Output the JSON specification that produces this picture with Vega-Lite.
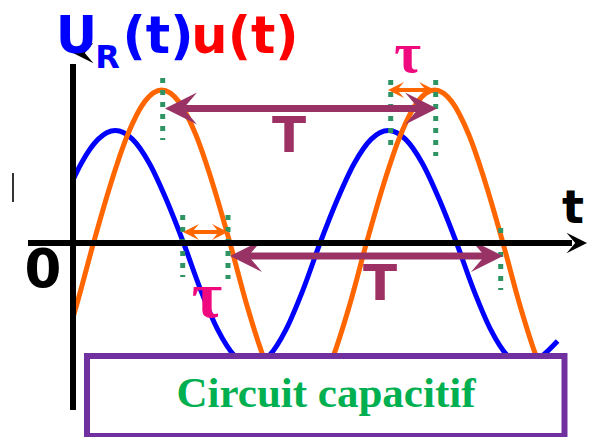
{
  "$schema": "https://vega.github.io/schema/vega-lite/v6.json",
  "width": 593,
  "height": 437,
  "padding": 0,
  "autosize": {"type": "none"},
  "background": "white",
  "config": {"view": {"stroke": null}},
  "encoding": {
    "x": {"field": "t", "type": "quantitative", "scale": {"domain": [-5.348, 38.095], "nice": false, "zero": false}, "axis": null},
    "y": {"field": "v", "type": "quantitative", "scale": {"domain": [-12.680, 15.882], "nice": false, "zero": false}, "axis": null}
  },
  "layer": [
    {
      "data": {"values": [
        {"s": "UR", "t": 0, "v": 4.13}, {"s": "UR", "t": 0.6, "v": 5.2}, {"s": "UR", "t": 1.85, "v": 6.79},
        {"s": "UR", "t": 3.1, "v": 7.35}, {"s": "UR", "t": 4.35, "v": 6.79}, {"s": "UR", "t": 5.6, "v": 5.2},
        {"s": "UR", "t": 6.85, "v": 2.81}, {"s": "UR", "t": 8.1, "v": 0}, {"s": "UR", "t": 9.35, "v": -3.06},
        {"s": "UR", "t": 10.6, "v": -5.66}, {"s": "UR", "t": 11.85, "v": -7.39}, {"s": "UR", "t": 13.1, "v": -8.0},
        {"s": "UR", "t": 14.35, "v": -7.39}, {"s": "UR", "t": 15.6, "v": -5.66}, {"s": "UR", "t": 16.85, "v": -3.06},
        {"s": "UR", "t": 18.1, "v": 0}, {"s": "UR", "t": 19.35, "v": 2.81}, {"s": "UR", "t": 20.6, "v": 5.2},
        {"s": "UR", "t": 21.85, "v": 6.79}, {"s": "UR", "t": 23.1, "v": 7.35}, {"s": "UR", "t": 24.35, "v": 6.79},
        {"s": "UR", "t": 25.6, "v": 5.2}, {"s": "UR", "t": 26.85, "v": 2.81}, {"s": "UR", "t": 28.1, "v": 0},
        {"s": "UR", "t": 29.35, "v": -3.06}, {"s": "UR", "t": 30.6, "v": -5.66}, {"s": "UR", "t": 31.85, "v": -7.39},
        {"s": "UR", "t": 33.1, "v": -8.0}, {"s": "UR", "t": 34.35, "v": -7.39}, {"s": "UR", "t": 35.5, "v": -6.4},
        {"s": "u", "t": 0, "v": -4.86}, {"s": "u", "t": 0.25, "v": -4.1}, {"s": "u", "t": 1.5, "v": 0},
        {"s": "u", "t": 2.75, "v": 3.83}, {"s": "u", "t": 4.0, "v": 7.07}, {"s": "u", "t": 5.25, "v": 9.24},
        {"s": "u", "t": 6.5, "v": 10}, {"s": "u", "t": 7.75, "v": 9.24}, {"s": "u", "t": 9.0, "v": 7.07},
        {"s": "u", "t": 10.25, "v": 3.83}, {"s": "u", "t": 11.5, "v": 0}, {"s": "u", "t": 12.75, "v": -4.1},
        {"s": "u", "t": 14.0, "v": -7.56}, {"s": "u", "t": 15.25, "v": -9.89}, {"s": "u", "t": 16.5, "v": -10.7},
        {"s": "u", "t": 17.75, "v": -9.89}, {"s": "u", "t": 19.0, "v": -7.56}, {"s": "u", "t": 20.25, "v": -4.1},
        {"s": "u", "t": 21.5, "v": 0}, {"s": "u", "t": 22.75, "v": 3.83}, {"s": "u", "t": 24.0, "v": 7.07},
        {"s": "u", "t": 25.25, "v": 9.24}, {"s": "u", "t": 26.5, "v": 10}, {"s": "u", "t": 27.75, "v": 9.24},
        {"s": "u", "t": 29.0, "v": 7.07}, {"s": "u", "t": 30.25, "v": 3.83}, {"s": "u", "t": 31.5, "v": 0},
        {"s": "u", "t": 32.75, "v": -4.1}, {"s": "u", "t": 34.0, "v": -7.56}, {"s": "u", "t": 35.25, "v": -9.89}
      ]},
      "mark": {"type": "line", "interpolate": "monotone", "strokeWidth": 5, "strokeCap": "butt"},
      "encoding": {
        "color": {"field": "s", "type": "nominal", "scale": {"domain": ["UR", "u"], "range": ["#0000FF", "#FF6600"]}, "legend": null}
      }
    },
    {
      "data": {"values": [
        {"t": 6.571, "v": 10.784, "t2": 6.571, "v2": 6.732},
        {"t": 23.275, "v": 10.654, "t2": 23.275, "v2": 5.948},
        {"t": 26.571, "v": 10.654, "t2": 26.571, "v2": 5.686},
        {"t": 8.037, "v": 1.83, "t2": 8.037, "v2": -2.222},
        {"t": 11.355, "v": 1.83, "t2": 11.355, "v2": -2.353},
        {"t": 31.333, "v": 0.98, "t2": 31.333, "v2": -3.072}
      ]},
      "mark": {"type": "rule", "color": "#2E9464", "strokeWidth": 5, "strokeDash": [5, 7], "strokeCap": "butt"},
      "encoding": {"x2": {"field": "t2"}, "y2": {"field": "v2"}}
    },
    {
      "data": {"values": [
        {"t": 7.839, "v": 8.791, "t2": 25.568, "v2": 8.791},
        {"t": 12.601, "v": -0.85, "t2": 30.403, "v2": -0.85}
      ]},
      "mark": {"type": "rule", "color": "#993366", "strokeWidth": 7, "strokeCap": "butt"},
      "encoding": {"x2": {"field": "t2"}, "y2": {"field": "v2"}}
    },
    {
      "data": {"values": [
        {"t": 6.74, "v": 8.791, "dir": "left"},
        {"t": 26.667, "v": 8.791, "dir": "right"},
        {"t": 11.502, "v": -0.85, "dir": "left"},
        {"t": 31.502, "v": -0.85, "dir": "right"}
      ]},
      "mark": {"type": "point", "filled": true, "opacity": 1, "color": "#993366", "size": 1024, "strokeWidth": 0},
      "encoding": {
        "shape": {"field": "dir", "type": "nominal", "scale": {"domain": ["left", "right"], "range": ["M0,0L2,-1L1.15,0L2,1Z", "M0,0L-2,-1L-1.15,0L-2,1Z"]}, "legend": null}
      }
    },
    {
      "data": {"values": [
        {"t": 23.59, "v": 10.0, "t2": 26.007, "v2": 10.0},
        {"t": 8.571, "v": 0.719, "t2": 10.842, "v2": 0.719}
      ]},
      "mark": {"type": "rule", "color": "#FF6600", "strokeWidth": 4, "strokeCap": "butt"},
      "encoding": {"x2": {"field": "t2"}, "y2": {"field": "v2"}}
    },
    {
      "data": {"values": [
        {"t": 23.077, "v": 10.0, "dir": "left"},
        {"t": 26.52, "v": 10.0, "dir": "right"},
        {"t": 8.059, "v": 0.719, "dir": "left"},
        {"t": 11.355, "v": 0.719, "dir": "right"}
      ]},
      "mark": {"type": "point", "filled": true, "opacity": 1, "color": "#FF6600", "size": 256, "strokeWidth": 0},
      "encoding": {
        "shape": {"field": "dir", "type": "nominal", "scale": {"domain": ["left", "right"], "range": ["M0,0L1.7,-1L1.2,0L1.7,1Z", "M0,0L-1.7,-1L-1.2,0L-1.7,1Z"]}, "legend": null}
      }
    },
    {
      "data": {"values": [
        {"t": 0, "v": -10.915, "t2": 0, "v2": 11.699},
        {"t": -3.297, "v": 0, "t2": 36.557, "v2": 0}
      ]},
      "mark": {"type": "rule", "color": "black", "strokeWidth": 6, "strokeCap": "butt"},
      "encoding": {"x2": {"field": "t2"}, "y2": {"field": "v2"}}
    },
    {
      "data": {"values": [
        {"t": 0, "v": 12.418, "dir": "up"},
        {"t": 37.656, "v": 0, "dir": "right"}
      ]},
      "mark": {"type": "point", "filled": true, "opacity": 1, "color": "black", "size": 420, "strokeWidth": 0},
      "encoding": {
        "shape": {"field": "dir", "type": "nominal", "scale": {"domain": ["up", "right"], "range": ["M0,0L1,1.3L-1,1.3Z", "M0,0L-1.9,-1L-1.7,0L-1.9,1Z"]}, "legend": null}
      }
    },
    {
      "data": {"values": [{"t": -4.396, "v": 4.575, "t2": -4.396, "v2": 2.68}]},
      "mark": {"type": "rule", "color": "#333333", "strokeWidth": 2},
      "encoding": {"x2": {"field": "t2"}, "y2": {"field": "v2"}}
    },
    {
      "data": {"values": [{"t": 0.256, "v": 12.418, "label": "U"}, {"t": 6.227, "v": 12.418, "label": "(t)"}]},
      "mark": {"type": "text", "font": "DejaVu Sans", "fontWeight": "bold", "fontSize": 51, "color": "#0000FF", "align": "center", "baseline": "alphabetic"},
      "encoding": {"text": {"field": "label"}}
    },
    {
      "data": {"values": [{"t": 2.527, "v": 11.438, "label": "R"}]},
      "mark": {"type": "text", "font": "DejaVu Sans", "fontWeight": "bold", "fontSize": 32, "color": "#0000FF", "align": "center", "baseline": "alphabetic"},
      "encoding": {"text": {"field": "label"}}
    },
    {
      "data": {"values": [{"t": 12.601, "v": 12.418, "label": "u(t)"}]},
      "mark": {"type": "text", "font": "DejaVu Sans", "fontWeight": "bold", "fontSize": 51, "color": "#FF0000", "align": "center", "baseline": "alphabetic"},
      "encoding": {"text": {"field": "label"}}
    },
    {
      "data": {"values": [{"t": -2.198, "v": -2.876, "label": "0"}]},
      "mark": {"type": "text", "font": "DejaVu Sans", "fontWeight": "bold", "fontSize": 53, "color": "black", "align": "center", "baseline": "alphabetic"},
      "encoding": {"text": {"field": "label"}}
    },
    {
      "data": {"values": [{"t": 36.63, "v": 1.307, "label": "t"}]},
      "mark": {"type": "text", "font": "DejaVu Sans", "fontWeight": "bold", "fontSize": 46, "color": "black", "align": "center", "baseline": "alphabetic"},
      "encoding": {"text": {"field": "label"}}
    },
    {
      "data": {"values": [{"t": 15.824, "v": 5.948, "label": "T"}, {"t": 22.491, "v": -3.725, "label": "T"}]},
      "mark": {"type": "text", "font": "DejaVu Sans", "fontWeight": "bold", "fontSize": 50, "color": "#9E3163", "align": "center", "baseline": "alphabetic"},
      "encoding": {"text": {"field": "label"}}
    },
    {
      "data": {"values": [{"t": 24.505, "v": 11.176, "label": "τ"}]},
      "mark": {"type": "text", "font": "Liberation Serif", "fontWeight": "bold", "fontSize": 58, "color": "#F0087F", "align": "center", "baseline": "alphabetic"},
      "encoding": {"text": {"field": "label"}}
    },
    {
      "data": {"values": [{"t": 9.817, "v": -4.837, "label": "τ"}]},
      "mark": {"type": "text", "font": "Liberation Serif", "fontWeight": "bold", "fontSize": 66, "color": "#F0087F", "align": "center", "baseline": "alphabetic"},
      "encoding": {"text": {"field": "label"}}
    },
    {
      "data": {"values": [{"t": 1.026, "v": -7.386, "t2": 36.007, "v2": -12.614}]},
      "mark": {"type": "rect", "fill": "white", "stroke": "#7030A0", "strokeWidth": 6},
      "encoding": {"x2": {"field": "t2"}, "y2": {"field": "v2"}}
    },
    {
      "data": {"values": [{"t": 18.535, "v": -10.719, "label": "Circuit capacitif"}]},
      "mark": {"type": "text", "font": "Liberation Serif", "fontWeight": "bold", "fontSize": 43, "color": "#00B050", "align": "center", "baseline": "alphabetic"},
      "encoding": {"text": {"field": "label"}}
    }
  ]
}
